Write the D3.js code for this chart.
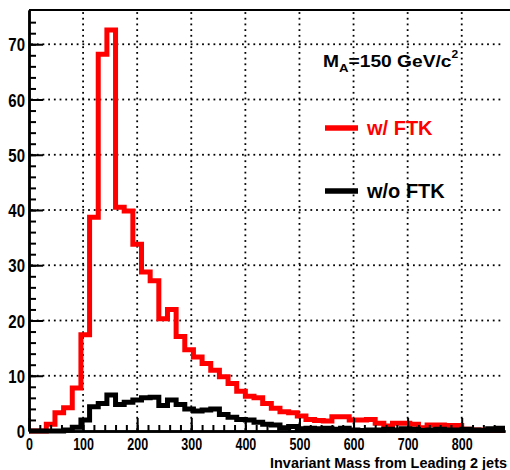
<!DOCTYPE html>
<html>
<head>
<meta charset="utf-8">
<script src="https://cdn.jsdelivr.net/npm/d3@7"></script>
<style>
  body { margin: 0; background: #fff; }
  text { font-family: "Liberation Sans", Arial, sans-serif; font-weight: bold; }
</style>
</head>
<body>
<svg id="chart" width="510" height="470"></svg>
<script>
// histogram contents, 16 GeV bins from 0 to 880
var binWidth = 16;
var withFTK = [0, 0, 1.2, 3.3, 4.2, 7.8, 17.4, 38.7, 68.2, 72.6,
  40.5, 39.8, 33.8, 28.8, 27.2, 20.3, 22.0, 17.1, 14.7, 13.4,
  12.2, 11.0, 9.8, 8.6, 7.2, 6.3, 6.0, 5.0, 4.1, 3.5,
  3.3, 2.7, 2.1, 1.9, 1.8, 2.6, 2.6, 2.0, 2.0, 2.1,
  1.4, 0.9, 1.4, 1.4, 1.2, 0.6, 1.1, 1.1, 1.0, 1.0,
  0.3, 0.2, 0.2, 0.1, 0.1];
var withoutFTK = [0, 0, 0, 0, 0.2, 0.7, 2.0, 4.4, 5.0, 6.5,
  4.8, 5.2, 5.6, 6.0, 6.1, 4.6, 5.6, 4.8, 4.0, 3.6,
  3.8, 4.0, 3.0, 2.5, 2.1, 2.0, 1.6, 1.2, 1.1, 0.6,
  0.8, 0.4, 0.5, 0.4, 0.5, 0.3, 0.5, 0.2, 0.1, 0.2,
  0.2, 0.3, 0.2, 0.4, 0.3, 0.1, 0.2, 0.3, 0.2, 0.2,
  0.3, 0.2, 0.1, 0.4, 0.5];
var xTicks = [0, 100, 200, 300, 400, 500, 600, 700, 800];
var yTicks = [0, 10, 20, 30, 40, 50, 60, 70];
var xTitle = "Invariant Mass from Leading 2 jets";
var legendLabels = ["w/ FTK", "w/o FTK"];
var legendColors = ["#ff0000", "#000000"];

var svg = d3.select("#chart");

var x = d3.scaleLinear().domain([0, 880]).range([29, 505]);
var y = d3.scaleLinear().domain([0, 76.2]).range([431, 10]);

// dotted grid, drawn as small squares every ~5.7 px
var dotStep = 5.7, dotSize = 1.8;
var grid = svg.append("g").attr("class", "grid").attr("fill", "#000");
xTicks.filter(function(d) { return d > 0; }).forEach(function(t) {
  grid.selectAll(null)
    .data(d3.range(y(76.2) + 3, y(0), dotStep))
    .enter().append("rect")
      .attr("x", x(t) - dotSize / 2)
      .attr("y", function(d) { return d - dotSize / 2; })
      .attr("width", dotSize)
      .attr("height", dotSize);
});
yTicks.filter(function(d) { return d > 0; }).forEach(function(t) {
  grid.selectAll(null)
    .data(d3.range(x(0) + 3, x(880), dotStep))
    .enter().append("rect")
      .attr("x", function(d) { return d - dotSize / 2; })
      .attr("y", y(t) - dotSize / 2)
      .attr("width", dotSize)
      .attr("height", dotSize);
});

// histograms
function histPoints(vals) {
  var pts = vals.map(function(v, i) { return [i * binWidth, v]; });
  pts.push([vals.length * binWidth, vals[vals.length - 1]]);
  return pts;
}
var line = d3.line()
  .x(function(d) { return x(d[0]); })
  .y(function(d) { return y(d[1]); })
  .curve(d3.curveStepAfter);

svg.append("path")
  .attr("d", line(histPoints(withFTK)))
  .attr("fill", "none")
  .attr("stroke", legendColors[0])
  .attr("stroke-width", 5);
svg.append("path")
  .attr("d", line(histPoints(withoutFTK)))
  .attr("fill", "none")
  .attr("stroke", legendColors[1])
  .attr("stroke-width", 5);

// frame
svg.append("line")
  .attr("x1", x(0)).attr("x2", 510)
  .attr("y1", y(76.2)).attr("y2", y(76.2))
  .attr("stroke", "#000").attr("stroke-width", 2);

// y axis: major + minor ticks inside
var yAxisG = svg.append("g")
  .attr("transform", "translate(" + x(0) + ",0)")
  .call(d3.axisLeft(y).tickValues(yTicks).tickSizeInner(-14).tickSizeOuter(0).tickPadding(4));
svg.append("g")
  .attr("transform", "translate(" + x(0) + ",0)")
  .call(d3.axisLeft(y).tickValues(d3.range(0, 76, 2)).tickSizeInner(-7).tickSizeOuter(0).tickFormat(""));

// x axis: major + minor ticks inside
var xAxisG = svg.append("g")
  .attr("transform", "translate(0," + y(0) + ")")
  .call(d3.axisBottom(x).tickValues(xTicks).tickSizeInner(-13).tickSizeOuter(0));
svg.append("g")
  .attr("transform", "translate(0," + y(0) + ")")
  .call(d3.axisBottom(x).tickValues(d3.range(0, 880, 20)).tickSizeInner(-6).tickSizeOuter(0).tickFormat(""));

svg.selectAll(".domain").attr("stroke", "#000").attr("stroke-width", 2.5);
svg.selectAll(".tick line").attr("stroke", "#000").attr("stroke-width", 2);

yAxisG.selectAll(".tick text")
  .attr("x", null).attr("dy", null)
  .attr("fill", "#000")
  .attr("font-size", 15)
  .attr("transform", "translate(-4,6.7) scale(1,1.24)");
xAxisG.selectAll(".tick text")
  .attr("y", null).attr("dy", null)
  .attr("fill", "#000")
  .attr("font-size", 12.5)
  .attr("transform", "translate(0,19) scale(1,1.38)");

// axis title
svg.append("text")
  .attr("transform", "translate(507,467.5) scale(1,1.25)")
  .attr("text-anchor", "end")
  .attr("font-size", 12)
  .attr("textLength", 237)
  .attr("lengthAdjust", "spacingAndGlyphs")
  .text(xTitle);

// mass label
var mText = svg.append("text")
  .attr("transform", "translate(323,67) scale(1.2,1)")
  .attr("font-size", 16);
mText.append("tspan").text("M");
mText.append("tspan").attr("font-size", 11).attr("dy", 5).text("A");
mText.append("tspan").attr("dy", -5).text("=150 GeV/c");
mText.append("tspan").attr("font-size", 10).attr("dy", -9).text("2");

// legend
var legendY = [128, 191];
var leg = svg.selectAll("g.legend")
  .data(legendLabels)
  .enter().append("g")
    .attr("class", "legend")
    .attr("transform", function(d, i) { return "translate(325," + legendY[i] + ")"; });
leg.append("line")
  .attr("x1", 0).attr("x2", 33)
  .attr("stroke", function(d, i) { return legendColors[i]; })
  .attr("stroke-width", 5.5);
leg.append("text")
  .attr("x", 42)
  .attr("y", 7)
  .attr("font-size", 20)
  .attr("fill", function(d, i) { return legendColors[i]; })
  .text(function(d) { return d; });
</script>
</body>
</html>
